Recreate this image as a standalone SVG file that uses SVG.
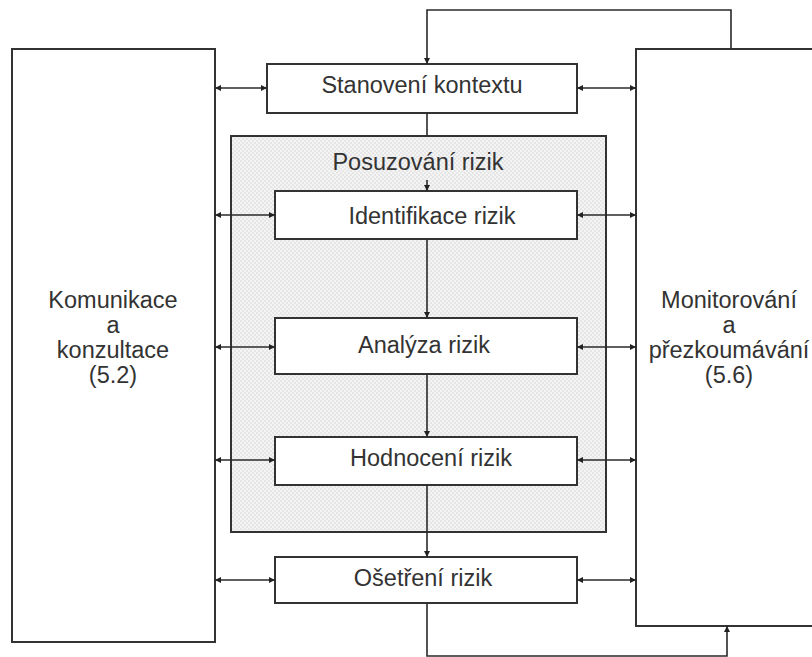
<svg xmlns="http://www.w3.org/2000/svg" width="812" height="657" viewBox="0 0 812 657">
<style>
.box{fill:#fff;stroke:#333;stroke-width:2}
.grp{fill:url(#dots);stroke:#333;stroke-width:2}
.t{font-family:"Liberation Sans",Arial,sans-serif;font-size:23.5px;fill:#333;text-anchor:middle}
.c{fill:none;stroke:#2a2a2a;stroke-width:1.6}
.a2{marker-start:url(#ah);marker-end:url(#ah)}
.a1{marker-end:url(#ah)}
</style>
<defs>
<pattern id="dots" width="4" height="4" patternUnits="userSpaceOnUse">
<rect width="4" height="4" fill="#f4f4f4"/>
<rect width="2" height="2" fill="#e6e6e6"/>
<rect x="2" y="2" width="2" height="2" fill="#e6e6e6"/>
</pattern>
<marker id="ah" viewBox="0 0 10 10" refX="10" refY="5" markerWidth="7" markerHeight="6" markerUnits="userSpaceOnUse" orient="auto-start-reverse">
<path d="M0,0 L10,5 L0,10 z" fill="#222"/>
</marker>
</defs>

<g id="komunikace">
<rect class="box" x="12" y="49" width="203" height="593"/>
<text class="t" x="113" y="308">Komunikace</text>
<text class="t" x="113" y="333">a</text>
<text class="t" x="113" y="358">konzultace</text>
<text class="t" x="113" y="383">(5.2)</text>
</g>

<g id="monitorovani">
<rect class="box" x="636" y="49" width="190" height="577"/>
<text class="t" x="729" y="308">Monitorování</text>
<text class="t" x="729" y="333">a</text>
<text class="t" x="729" y="358">přezkoumávání</text>
<text class="t" x="729" y="383">(5.6)</text>
</g>

<g id="posuzovani">
<rect class="grp" x="231" y="136" width="375" height="396"/>
<text class="t" x="418" y="170">Posuzování rizik</text>
</g>

<g id="stanoveni">
<rect class="box" x="267" y="64" width="310" height="49"/>
<text class="t" x="422" y="93">Stanovení kontextu</text>
</g>

<g id="identifikace">
<rect class="box" x="275" y="191" width="302" height="48"/>
<text class="t" x="432" y="224">Identifikace rizik</text>
</g>

<g id="analyza">
<rect class="box" x="275" y="318" width="302" height="56"/>
<text class="t" x="424" y="353">Analýza rizik</text>
</g>

<g id="hodnoceni">
<rect class="box" x="275" y="437" width="302" height="48"/>
<text class="t" x="431" y="466">Hodnocení rizik</text>
</g>

<g id="osetreni">
<rect class="box" x="275" y="557" width="302" height="46"/>
<text class="t" x="423" y="586">Ošetření rizik</text>
</g>

<g id="connectors">
<!-- top loop from monitoring to context -->
<polyline class="c a1" points="731,49 731,10 427,10 427,64"/>
<!-- vertical flow -->
<line class="c" x1="427" y1="113" x2="427" y2="136"/>
<line class="c a1" x1="427" y1="180" x2="427" y2="191"/>
<line class="c a1" x1="427" y1="239" x2="427" y2="318"/>
<line class="c a1" x1="427" y1="374" x2="427" y2="437"/>
<line class="c a1" x1="427" y1="485" x2="427" y2="557"/>
<!-- bottom loop to monitoring -->
<polyline class="c a1" points="427,603 427,656 727,656 727,626"/>
<!-- left double arrows -->
<line class="c a2" x1="215" y1="88" x2="267" y2="88"/>
<line class="c a2" x1="215" y1="215" x2="275" y2="215"/>
<line class="c a2" x1="215" y1="347" x2="275" y2="347"/>
<line class="c a2" x1="215" y1="460" x2="275" y2="460"/>
<line class="c a2" x1="215" y1="580" x2="275" y2="580"/>
<!-- right double arrows -->
<line class="c a2" x1="577" y1="88" x2="636" y2="88"/>
<line class="c a2" x1="577" y1="215" x2="636" y2="215"/>
<line class="c a2" x1="577" y1="347" x2="636" y2="347"/>
<line class="c a2" x1="577" y1="460" x2="636" y2="460"/>
<line class="c a2" x1="577" y1="580" x2="636" y2="580"/>
</g>
</svg>
